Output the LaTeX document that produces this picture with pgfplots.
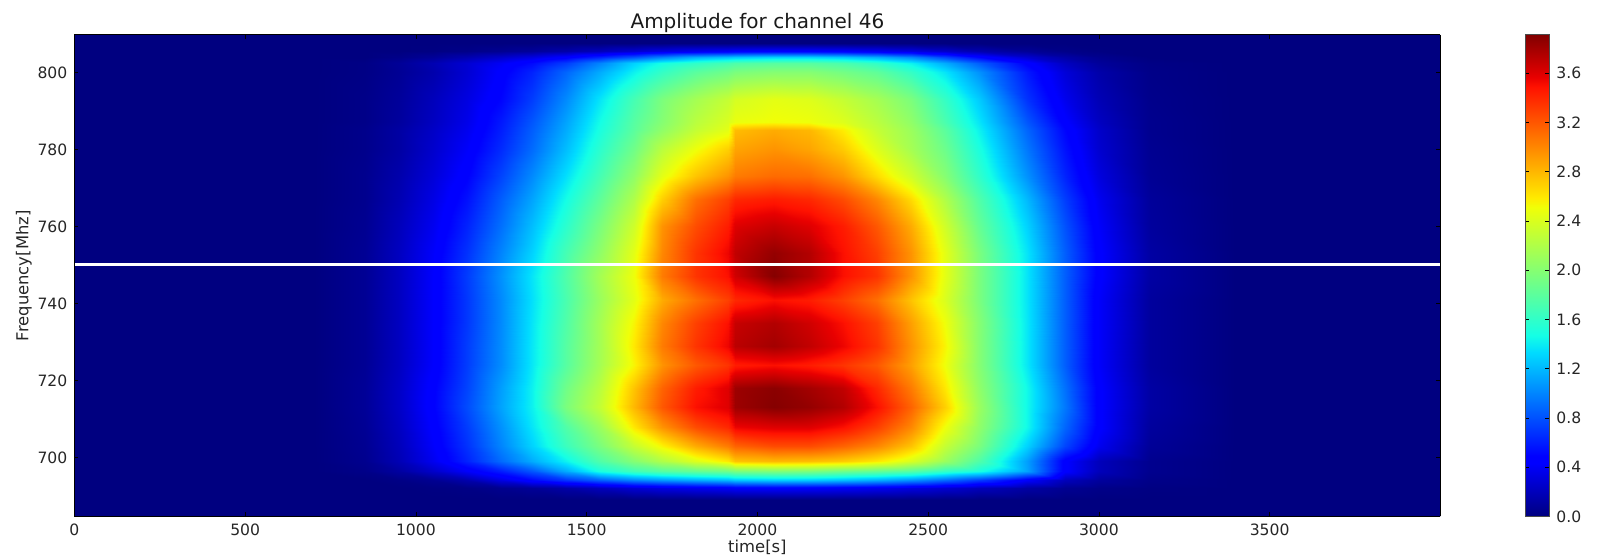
\documentclass[border=0pt]{standalone}
\usepackage{pgfplots}
\pgfplotsset{compat=1.18}
\usepackage{fontspec}
\setmainfont{DejaVu Sans}
\definecolor{jetlow}{rgb}{0,0,0.5}
\pgfplotsset{
  colormap={mpljet}{rgb(0pt)=(0,0,0.5); rgb(11pt)=(0,0,1); rgb(12.5pt)=(0,0,1); rgb(34pt)=(0,0.86,1); rgb(37.5pt)=(0.08,1,0.9); rgb(50pt)=(0.49,1,0.48); rgb(64pt)=(0.94,1,0.03); rgb(66pt)=(1,0.92,0); rgb(89pt)=(1,0.07,0); rgb(91pt)=(0.91,0,0); rgb(100pt)=(0.5,0,0)},
}
\begin{document}
\begin{tikzpicture}
\useasboundingbox (0,0) rectangle (798.5pt,280pt);
\begin{axis}[
  at={(37.2pt,21.75pt)}, anchor=south west,
  scale only axis, width=683pt, height=240.75pt,
  view={0}{90},
  xmin=0, xmax=4000, ymin=684.64, ymax=809.7,
  axis background/.style={fill=jetlow},
  axis on top,
  colormap name=mpljet,
  point meta min=0, point meta max=3.92,
  xtick={0,500,...,3500}, ytick={700,720,...,800},
  tick align=inside, major tick length=2pt, tick style={black,line width=0.3pt},
  axis line style={black,line width=0.5pt},
  xticklabel style={/pgf/number format/assume math mode=true,/pgf/number format/fixed,/pgf/number format/set thousands separator={}},
  yticklabel style={/pgf/number format/assume math mode=true,/pgf/number format/fixed,/pgf/number format/set thousands separator={}},
  tick label style={font=\fontsize{7.8}{9}\selectfont,text=black!85},
  title={Amplitude for channel 46},
  title style={font=\fontsize{10}{12}\selectfont,text=black!90,yshift=-8.6pt},
  xlabel={time[s]}, ylabel={Frequency[Mhz]},
  label style={font=\fontsize{8.2}{10}\selectfont,text=black!85},
  xlabel shift=-4.5pt, ylabel shift=-4pt,
  colorbar,
  colorbar style={
    at={(1.0622,1)}, anchor=north west,
    width=12pt,
    ymax=3.91,
    ytick={0,0.4,0.8,1.2,1.6,2.0,2.4,2.8,3.2,3.6},
    yticklabel pos=right,
    tick align=inside, major tick length=2pt,
    yticklabel style={/pgf/number format/assume math mode=true,/pgf/number format/fixed,/pgf/number format/fixed zerofill,/pgf/number format/precision=1,font=\fontsize{7.8}{9}\selectfont,text=black!85},
    axis line style={black!70,line width=0.5pt},
  },
]
\addplot3[surf,shader=interp,mesh/cols=26,mesh/ordering=x varies] table[row sep=\\,x=t,y=f,z=v]{
t f v\\
700 689 0\\850 689 0\\950 689 0\\1050 689 0\\1150 689 0\\1250 689 0\\1340 689 0\\1440 689 0\\1540 689 0\\1640 689 0\\1720 689 0\\1820 689 0\\1915 689 0\\1935 689 0\\2050 689 0\\2150 689 0\\2250 689 0\\2350 689 0\\2450 689 0\\2550 689 0\\2650 689 0\\2790 689 0\\2900 689 0\\3000 689 0\\3150 689 0\\3400 689 0\\
700 692 0\\850 692 0\\950 692 0\\1050 692 0.01\\1150 692 0.02\\1250 692 0.05\\1340 692 0.08\\1440 692 0.13\\1540 692 0.2\\1640 692 0.28\\1720 692 0.33\\1820 692 0.37\\1915 692 0.4\\1935 692 0.42\\2050 692 0.43\\2150 692 0.42\\2250 692 0.4\\2350 692 0.37\\2450 692 0.32\\2550 692 0.27\\2650 692 0.2\\2790 692 0.12\\2900 692 0.06\\3000 692 0.03\\3150 692 0.01\\3400 692 0\\
700 694 0\\850 694 0\\950 694 0.02\\1050 694 0.06\\1150 694 0.15\\1250 694 0.33\\1340 694 0.5\\1440 694 0.68\\1540 694 0.85\\1640 694 1.0\\1720 694 1.08\\1820 694 1.15\\1915 694 1.2\\1935 694 1.25\\2050 694 1.28\\2150 694 1.27\\2250 694 1.22\\2350 694 1.15\\2450 694 1.05\\2550 694 0.9\\2650 694 0.72\\2790 694 0.42\\2900 694 0.2\\3000 694 0.1\\3150 694 0.03\\3400 694 0\\
700 696.5 0\\850 696.5 0.03\\950 696.5 0.11\\1050 696.5 0.25\\1150 696.5 0.42\\1250 696.5 0.6\\1340 696.5 0.82\\1440 696.5 1.15\\1540 696.5 1.5\\1640 696.5 1.68\\1720 696.5 1.78\\1820 696.5 1.85\\1915 696.5 1.9\\1935 696.5 1.95\\2050 696.5 1.98\\2150 696.5 1.96\\2250 696.5 1.9\\2350 696.5 1.85\\2450 696.5 1.78\\2550 696.5 1.62\\2650 696.5 1.5\\2790 696.5 1.12\\2900 696.5 0.45\\3000 696.5 0.2\\3150 696.5 0.05\\3400 696.5 0\\
700 699 0\\850 699 0.05\\950 699 0.18\\1050 699 0.38\\1150 699 0.62\\1250 699 0.9\\1340 699 1.15\\1440 699 1.42\\1540 699 1.75\\1640 699 2.0\\1720 699 2.2\\1820 699 2.42\\1915 699 2.6\\1935 699 2.75\\2050 699 2.8\\2150 699 2.78\\2250 699 2.72\\2350 699 2.6\\2450 699 2.4\\2550 699 2.1\\2650 699 1.75\\2790 699 1.1\\2900 699 0.45\\3000 699 0.2\\3150 699 0.05\\3400 699 0\\
700 703 0\\850 703 0.06\\950 703 0.2\\1050 703 0.42\\1150 703 0.68\\1250 703 1.0\\1340 703 1.3\\1440 703 1.65\\1540 703 1.95\\1640 703 2.3\\1720 703 2.55\\1820 703 2.85\\1915 703 3.05\\1935 703 3.15\\2050 703 3.25\\2150 703 3.25\\2250 703 3.15\\2350 703 3.0\\2450 703 2.75\\2550 703 2.3\\2650 703 1.95\\2790 703 1.3\\2900 703 0.75\\3000 703 0.38\\3150 703 0.08\\3400 703 0\\
700 708 0\\850 708 0.07\\950 708 0.22\\1050 708 0.45\\1150 708 0.72\\1250 708 1.05\\1340 708 1.37\\1440 708 1.75\\1540 708 2.1\\1640 708 2.6\\1720 708 2.95\\1820 708 3.25\\1915 708 3.4\\1935 708 3.55\\2050 708 3.6\\2150 708 3.6\\2250 708 3.5\\2350 708 3.3\\2450 708 3.0\\2550 708 2.5\\2650 708 2.05\\2790 708 1.45\\2900 708 0.88\\3000 708 0.45\\3150 708 0.1\\3400 708 0\\
700 713 0\\850 713 0.08\\950 713 0.24\\1050 713 0.48\\1150 713 0.78\\1250 713 1.12\\1340 713 1.42\\1440 713 1.95\\1540 713 2.3\\1640 713 2.8\\1720 713 3.2\\1820 713 3.5\\1915 713 3.6\\1935 713 3.82\\2050 713 3.9\\2150 713 3.85\\2250 713 3.75\\2350 713 3.5\\2450 713 3.15\\2550 713 2.7\\2650 713 2.1\\2790 713 1.45\\2900 713 0.95\\3000 713 0.45\\3150 713 0.12\\3400 713 0\\
700 718 0\\850 718 0.08\\950 718 0.24\\1050 718 0.47\\1150 718 0.75\\1250 718 1.1\\1340 718 1.42\\1440 718 1.9\\1540 718 2.25\\1640 718 2.75\\1720 718 3.15\\1820 718 3.45\\1915 718 3.6\\1935 718 3.82\\2050 718 3.88\\2150 718 3.8\\2250 718 3.7\\2350 718 3.4\\2450 718 3.05\\2550 718 2.6\\2650 718 2.05\\2790 718 1.45\\2900 718 0.92\\3000 718 0.45\\3150 718 0.12\\3400 718 0\\
700 724 0\\850 724 0.07\\950 724 0.22\\1050 724 0.43\\1150 724 0.72\\1250 724 1.03\\1340 724 1.38\\1440 724 1.78\\1540 724 2.15\\1640 724 2.55\\1720 724 2.95\\1820 724 3.2\\1915 724 3.35\\1935 724 3.45\\2050 724 3.5\\2150 724 3.45\\2250 724 3.35\\2350 724 3.2\\2450 724 2.9\\2550 724 2.5\\2650 724 2.0\\2790 724 1.38\\2900 724 0.85\\3000 724 0.42\\3150 724 0.1\\3400 724 0\\
700 729 0\\850 729 0.07\\950 729 0.22\\1050 729 0.43\\1150 729 0.72\\1250 729 1.03\\1340 729 1.38\\1440 729 1.78\\1540 729 2.15\\1640 729 2.6\\1720 729 3.05\\1820 729 3.35\\1915 729 3.55\\1935 729 3.72\\2050 729 3.8\\2150 729 3.7\\2250 729 3.55\\2350 729 3.35\\2450 729 2.95\\2550 729 2.55\\2650 729 2.0\\2790 729 1.38\\2900 729 0.85\\3000 729 0.42\\3150 729 0.1\\3400 729 0\\
700 735 0\\850 735 0.07\\950 735 0.22\\1050 735 0.43\\1150 735 0.7\\1250 735 1.02\\1340 735 1.37\\1440 735 1.75\\1540 735 2.15\\1640 735 2.55\\1720 735 3.0\\1820 735 3.3\\1915 735 3.5\\1935 735 3.68\\2050 735 3.75\\2150 735 3.65\\2250 735 3.5\\2350 735 3.3\\2450 735 2.9\\2550 735 2.5\\2650 735 2.0\\2790 735 1.38\\2900 735 0.85\\3000 735 0.42\\3150 735 0.1\\3400 735 0\\
700 741 0\\850 741 0.07\\950 741 0.22\\1050 741 0.43\\1150 741 0.7\\1250 741 1.02\\1340 741 1.35\\1440 741 1.72\\1540 741 2.1\\1640 741 2.45\\1720 741 2.85\\1820 741 3.1\\1915 741 3.3\\1935 741 3.4\\2050 741 3.5\\2150 741 3.45\\2250 741 3.3\\2350 741 3.1\\2450 741 2.75\\2550 741 2.4\\2650 741 1.95\\2790 741 1.37\\2900 741 0.85\\3000 741 0.42\\3150 741 0.1\\3400 741 0\\
700 747 0\\850 747 0.07\\950 747 0.22\\1050 747 0.43\\1150 747 0.72\\1250 747 1.05\\1340 747 1.37\\1440 747 1.75\\1540 747 2.15\\1640 747 2.5\\1720 747 3.05\\1820 747 3.35\\1915 747 3.5\\1935 747 3.65\\2050 747 3.9\\2150 747 3.75\\2250 747 3.5\\2350 747 3.35\\2450 747 2.95\\2550 747 2.45\\2650 747 1.95\\2790 747 1.37\\2900 747 0.85\\3000 747 0.45\\3150 747 0.12\\3400 747 0\\
700 753 0\\850 753 0.07\\950 753 0.22\\1050 753 0.42\\1150 753 0.68\\1250 753 1.0\\1340 753 1.3\\1440 753 1.7\\1540 753 2.05\\1640 753 2.45\\1720 753 3.0\\1820 753 3.35\\1915 753 3.55\\1935 753 3.7\\2050 753 3.85\\2150 753 3.75\\2250 753 3.5\\2350 753 3.3\\2450 753 2.95\\2550 753 2.45\\2650 753 1.95\\2790 753 1.37\\2900 753 0.85\\3000 753 0.45\\3150 753 0.12\\3400 753 0\\
700 760 0\\850 760 0.06\\950 760 0.2\\1050 760 0.38\\1150 760 0.62\\1250 760 0.92\\1340 760 1.22\\1440 760 1.58\\1540 760 1.95\\1640 760 2.35\\1720 760 2.95\\1820 760 3.25\\1915 760 3.45\\1935 760 3.6\\2050 760 3.68\\2150 760 3.6\\2250 760 3.45\\2350 760 3.2\\2450 760 2.85\\2550 760 2.35\\2650 760 1.85\\2790 760 1.3\\2900 760 0.8\\3000 760 0.42\\3150 760 0.1\\3400 760 0\\
700 767 0\\850 767 0.05\\950 767 0.17\\1050 767 0.34\\1150 767 0.55\\1250 767 0.85\\1340 767 1.12\\1440 767 1.47\\1540 767 1.82\\1640 767 2.2\\1720 767 2.7\\1820 767 3.1\\1915 767 3.3\\1935 767 3.4\\2050 767 3.45\\2150 767 3.4\\2250 767 3.25\\2350 767 3.0\\2450 767 2.65\\2550 767 2.2\\2650 767 1.75\\2790 767 1.2\\2900 767 0.72\\3000 767 0.38\\3150 767 0.09\\3400 767 0\\
700 773 0\\850 773 0.05\\950 773 0.15\\1050 773 0.3\\1150 773 0.48\\1250 773 0.75\\1340 773 1.02\\1440 773 1.35\\1540 773 1.7\\1640 773 2.05\\1720 773 2.45\\1820 773 2.75\\1915 773 2.95\\1935 773 3.05\\2050 773 3.12\\2150 773 3.1\\2250 773 2.95\\2350 773 2.65\\2450 773 2.35\\2550 773 2.0\\2650 773 1.6\\2790 773 1.05\\2900 773 0.62\\3000 773 0.32\\3150 773 0.07\\3400 773 0\\
700 780 0\\850 780 0.04\\950 780 0.12\\1050 780 0.26\\1150 780 0.42\\1250 780 0.65\\1340 780 0.9\\1440 780 1.22\\1540 780 1.58\\1640 780 1.9\\1720 780 2.25\\1820 780 2.5\\1915 780 2.7\\1935 780 2.88\\2050 780 2.95\\2150 780 2.88\\2250 780 2.72\\2350 780 2.42\\2450 780 2.15\\2550 780 1.88\\2650 780 1.5\\2790 780 0.95\\2900 780 0.55\\3000 780 0.27\\3150 780 0.06\\3400 780 0\\
700 785 0\\850 785 0.04\\950 785 0.12\\1050 785 0.24\\1150 785 0.38\\1250 785 0.6\\1340 785 0.85\\1440 785 1.15\\1540 785 1.5\\1640 785 1.8\\1720 785 2.05\\1820 785 2.3\\1915 785 2.45\\1935 785 2.78\\2050 785 2.85\\2150 785 2.8\\2250 785 2.58\\2350 785 2.3\\2450 785 2.1\\2550 785 1.8\\2650 785 1.42\\2790 785 0.88\\2900 785 0.5\\3000 785 0.25\\3150 785 0.05\\3400 785 0\\
700 787 0\\850 787 0.03\\950 787 0.1\\1050 787 0.22\\1150 787 0.36\\1250 787 0.58\\1340 787 0.82\\1440 787 1.12\\1540 787 1.47\\1640 787 1.78\\1720 787 2.0\\1820 787 2.25\\1915 787 2.4\\1935 787 2.48\\2050 787 2.52\\2150 787 2.5\\2250 787 2.42\\2350 787 2.25\\2450 787 2.05\\2550 787 1.72\\2650 787 1.37\\2790 787 0.82\\2900 787 0.45\\3000 787 0.22\\3150 787 0.05\\3400 787 0\\
700 793 0\\850 793 0.03\\950 793 0.09\\1050 793 0.2\\1150 793 0.33\\1250 793 0.5\\1340 793 0.72\\1440 793 1.02\\1540 793 1.37\\1640 793 1.7\\1720 793 1.95\\1820 793 2.15\\1915 793 2.3\\1935 793 2.38\\2050 793 2.45\\2150 793 2.42\\2250 793 2.3\\2350 793 2.15\\2450 793 1.95\\2550 793 1.62\\2650 793 1.27\\2790 793 0.68\\2900 793 0.37\\3000 793 0.18\\3150 793 0.04\\3400 793 0\\
700 800 0\\850 800 0.02\\950 800 0.07\\1050 800 0.15\\1150 800 0.28\\1250 800 0.45\\1340 800 0.62\\1440 800 0.88\\1540 800 1.15\\1640 800 1.42\\1720 800 1.62\\1820 800 1.8\\1915 800 1.9\\1935 800 1.95\\2050 800 2.0\\2150 800 2.0\\2250 800 1.92\\2350 800 1.82\\2450 800 1.62\\2550 800 1.37\\2650 800 1.05\\2790 800 0.58\\2900 800 0.3\\3000 800 0.14\\3150 800 0.03\\3400 800 0\\
700 802.5 0\\850 802.5 0.02\\950 802.5 0.08\\1050 802.5 0.17\\1150 802.5 0.28\\1250 802.5 0.4\\1340 802.5 0.52\\1440 802.5 0.72\\1540 802.5 1.0\\1640 802.5 1.3\\1720 802.5 1.48\\1820 802.5 1.6\\1915 802.5 1.7\\1935 802.5 1.74\\2050 802.5 1.78\\2150 802.5 1.78\\2250 802.5 1.72\\2350 802.5 1.6\\2450 802.5 1.42\\2550 802.5 1.15\\2650 802.5 0.85\\2790 802.5 0.47\\2900 802.5 0.22\\3000 802.5 0.09\\3150 802.5 0.02\\3400 802.5 0\\
700 804 0\\850 804 0\\950 804 0.03\\1050 804 0.08\\1150 804 0.16\\1250 804 0.25\\1340 804 0.33\\1440 804 0.45\\1540 804 0.62\\1640 804 0.8\\1720 804 0.98\\1820 804 1.15\\1915 804 1.22\\1935 804 1.25\\2050 804 1.3\\2150 804 1.3\\2250 804 1.25\\2350 804 1.15\\2450 804 1.0\\2550 804 0.75\\2650 804 0.5\\2790 804 0.27\\2900 804 0.13\\3000 804 0.05\\3150 804 0\\3400 804 0\\
700 805.5 0\\850 805.5 0\\950 805.5 0\\1050 805.5 0.01\\1150 805.5 0.03\\1250 805.5 0.06\\1340 805.5 0.09\\1440 805.5 0.14\\1540 805.5 0.2\\1640 805.5 0.27\\1720 805.5 0.33\\1820 805.5 0.38\\1915 805.5 0.41\\1935 805.5 0.43\\2050 805.5 0.45\\2150 805.5 0.45\\2250 805.5 0.43\\2350 805.5 0.39\\2450 805.5 0.33\\2550 805.5 0.25\\2650 805.5 0.16\\2790 805.5 0.08\\2900 805.5 0.03\\3000 805.5 0.01\\3150 805.5 0\\3400 805.5 0\\
700 807.5 0\\850 807.5 0\\950 807.5 0\\1050 807.5 0\\1150 807.5 0\\1250 807.5 0\\1340 807.5 0\\1440 807.5 0\\1540 807.5 0\\1640 807.5 0\\1720 807.5 0\\1820 807.5 0\\1915 807.5 0\\1935 807.5 0\\2050 807.5 0\\2150 807.5 0\\2250 807.5 0\\2350 807.5 0\\2450 807.5 0\\2550 807.5 0\\2650 807.5 0\\2790 807.5 0\\2900 807.5 0\\3000 807.5 0\\3150 807.5 0\\3400 807.5 0\\
};
\addplot3[white,line width=1.5pt,no marks] coordinates {(0,750,4)(4000,750,4)};
\end{axis}
\end{tikzpicture}
\end{document}
